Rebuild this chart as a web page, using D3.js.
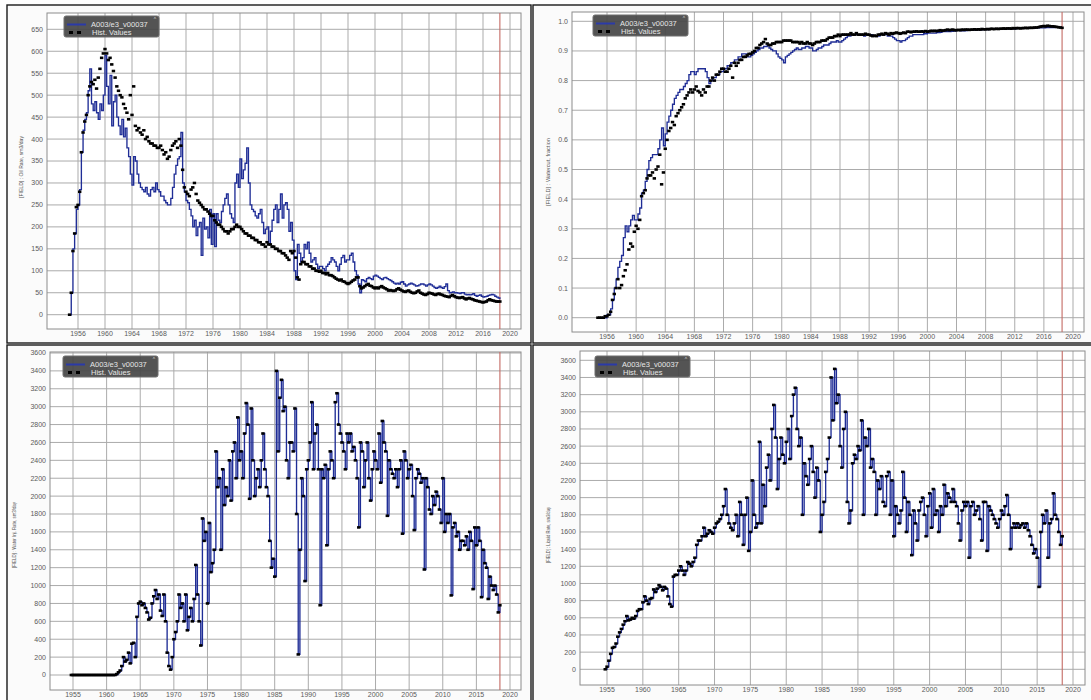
<!DOCTYPE html>
<html><head><meta charset="utf-8">
<script src="https://cdn.jsdelivr.net/npm/d3@7"></script>
<style>body{margin:0;background:#fff;}svg{display:block;font-family:"Liberation Sans",Arial,sans-serif;}</style>
</head><body><svg id="c" width="1091" height="700"></svg>
<script>
// ---- time axis: quarterly samples starting 1954.75 ----
const START_YEAR = 1954.75;
const STEP_YEARS = 0.25;
const RESTART_YEAR = 2018.5;   // red vertical marker

// ---- tick labels ----
const yearTicks4 = [1956,1960,1964,1968,1972,1976,1980,1984,1988,1992,1996,2000,2004,2008,2012,2016,2020];
const yearTicks5 = [1955,1960,1965,1970,1975,1980,1985,1990,1995,2000,2005,2010,2015,2020];
const oilTicks = [0,50,100,150,200,250,300,350,400,450,500,550,600,650];
const wcutTicks = [0,0.1,0.2,0.3,0.4,0.5,0.6,0.7,0.8,0.9,1.0];
const rateTicks = [0,200,400,600,800,1000,1200,1400,1600,1800,2000,2200,2400,2600,2800,3000,3200,3400,3600];

// ---- series names ----
const simName = "A003/e3_v00037";
const histName = "Hist. Values";

// ---- Oil rate, sm3/day ----
const simOil = [0,
 50,150,185,240, 250,285,370,420, 445,460,510,560, 480,465,485,460, 445,480,465,500,
 590,520,480,545, 430,485,500,450, 430,410,445,405, 425,380,360,320, 295,360,350,320,
 300,290,285,280, 290,275,270,285, 290,280,300,285, 280,270,270,260, 255,250,250,265,
 290,320,340,355, 360,415,300,280, 260,255,240,225, 200,215,180,200, 210,135,220,195,
 200,175,240,160, 230,155,230,215, 210,235,250,265, 275,250,230,220, 210,300,320,290,
 355,310,330,345, 380,300,250,240, 235,225,220,230, 240,210,185,195, 200,160,190,215,
 240,250,210,240, 275,220,250,255, 240,190,210,170, 100,80,160,140, 120,130,160,150,
 165,140,120,125, 130,115,105,110, 110,105,100,110, 115,120,130,125, 120,110,100,115,
 130,135,120,125, 125,135,140,120, 100,90,70,50, 80,78,75,82, 85,82,80,88,
 90,88,85,82, 80,84,85,82, 80,78,75,72, 70,72,70,74, 75,70,65,68,
 70,72,70,68, 65,66,68,70, 70,68,65,68, 70,68,65,62, 60,62,65,62,
 60,64,70,55, 50,51,52,50, 50,49,48,50, 50,47,45,46, 45,46,48,44,
 42,44,45,42, 40,41,42,44, 45,46,45,42, 40,38,35];
const histOil = [0,
 50,145,185,245, 250,280,370,415, 440,455,500,520, 530,525,535,515, 540,560,585,595,
 605,595,580,585, 570,555,540,520, 510,500,495,480, 470,460,445,500, 455,520,430,420,
 425,415,410,420, 400,405,395,390, 390,385,385,380, 380,385,375,365, 370,355,360,375,
 385,390,395,380, 400,385,330,290, 280,275,270,285, 290,300,275,260, 255,250,245,240,
 240,235,230,225, 225,215,210,205, 205,200,195,190, 190,185,190,195, 195,200,205,200,
 200,195,190,185, 185,180,180,175, 175,170,170,165, 165,160,160,155, 165,160,160,155,
 155,150,150,145, 145,140,140,135, 130,125,145,140, 145,130,85,80, 115,120,120,115,
 115,110,110,105, 105,100,100,98, 100,95,95,92, 95,90,90,88, 85,82,80,78,
 80,76,75,72, 70,72,75,78, 80,85,85,65, 60,62,65,68, 70,66,65,62,
 60,62,60,63, 65,62,60,58, 55,56,55,54, 55,58,60,57, 55,53,52,54,
 55,52,50,49, 50,53,55,50, 48,46,45,47, 50,49,48,46, 45,47,48,46,
 45,43,42,41, 40,43,45,42, 40,39,38,39, 40,37,35,37, 38,36,35,33,
 32,31,30,29, 28,29,30,33, 35,33,32,31, 30,30,30];

// ---- Watercut, fraction ----
const simWcut = [0,
 0,0,0,0, 0.01,0.01,0.03,0.06, 0.10,0.13,0.17,0.19, 0.21,0.27,0.31,0.29, 0.31,0.33,0.345,0.33,
 0.33,0.35,0.37,0.42, 0.43,0.46,0.50,0.53, 0.54,0.55,0.55,0.55, 0.57,0.60,0.64,0.58, 0.62,0.66,0.68,0.70,
 0.72,0.74,0.75,0.76, 0.77,0.77,0.78,0.79, 0.80,0.82,0.83,0.83, 0.82,0.83,0.84,0.84, 0.84,0.84,0.83,0.81,
 0.79,0.80,0.81,0.81, 0.82,0.82,0.83,0.83, 0.84,0.84,0.85,0.85, 0.86,0.86,0.87,0.87, 0.88,0.88,0.89,0.89,
 0.89,0.88,0.88,0.885, 0.89,0.895,0.90,0.905, 0.91,0.91,0.915,0.915, 0.92,0.91,0.905,0.90, 0.90,0.89,0.88,0.875,
 0.87,0.86,0.88,0.885, 0.89,0.895,0.90,0.905, 0.91,0.905,0.905,0.91, 0.91,0.915,0.915,0.91, 0.91,0.90,0.90,0.905,
 0.91,0.91,0.915,0.92, 0.92,0.92,0.925,0.93, 0.93,0.93,0.935,0.93, 0.93,0.935,0.94,0.945, 0.95,0.95,0.955,0.955,
 0.955,0.955,0.955,0.955, 0.955,0.95,0.955,0.955, 0.955,0.955,0.95,0.95, 0.95,0.95,0.955,0.955, 0.955,0.955,0.95,0.95,
 0.95,0.945,0.94,0.935, 0.935,0.93,0.935,0.935, 0.94,0.945,0.95,0.95, 0.955,0.955,0.955,0.955, 0.955,0.955,0.958,0.958,
 0.96,0.96,0.96,0.96, 0.96,0.962,0.962,0.963, 0.965,0.965,0.965,0.965, 0.965,0.966,0.967,0.968, 0.97,0.97,0.968,0.968,
 0.968,0.969,0.97,0.97, 0.97,0.97,0.97,0.971, 0.971,0.971,0.972,0.972, 0.972,0.972,0.973,0.973, 0.973,0.973,0.974,0.974,
 0.974,0.974,0.975,0.975, 0.975,0.975,0.975,0.975, 0.975,0.976,0.976,0.976, 0.976,0.976,0.977,0.977, 0.977,0.977,0.977,0.978,
 0.978,0.978,0.978,0.978, 0.978,0.979,0.979,0.979, 0.979,0.979,0.98,0.98, 0.98,0.98,0.98];
const histWcut = [0,
 0,0,0,0.005, 0.005,0.01,0.02,0.06, 0.08,0.10,0.13,0.10, 0.11,0.14,0.16,0.18, 0.23,0.25,0.24,0.29,
 0.31,0.30,0.33,0.41, 0.42,0.43,0.47,0.48, 0.48,0.49,0.47,0.50, 0.51,0.55,0.45,0.49, 0.57,0.60,0.63,0.64,
 0.66,0.65,0.68,0.69, 0.70,0.71,0.72,0.74, 0.75,0.76,0.77,0.76, 0.77,0.78,0.765,0.76, 0.75,0.77,0.76,0.78,
 0.78,0.80,0.81,0.80, 0.82,0.82,0.83,0.84, 0.84,0.83,0.83,0.84, 0.85,0.81,0.86,0.85, 0.86,0.87,0.87,0.88,
 0.88,0.885,0.89,0.89, 0.895,0.90,0.91,0.91, 0.92,0.925,0.93,0.94, 0.925,0.92,0.92,0.925, 0.925,0.93,0.93,0.93,
 0.93,0.935,0.935,0.935, 0.935,0.935,0.93,0.93, 0.93,0.93,0.925,0.93, 0.925,0.925,0.93,0.925, 0.925,0.92,0.925,0.93,
 0.93,0.93,0.935,0.935, 0.935,0.94,0.945,0.945, 0.945,0.95,0.95,0.955, 0.95,0.955,0.955,0.955, 0.955,0.955,0.96,0.955,
 0.955,0.96,0.955,0.955, 0.955,0.955,0.958,0.955, 0.955,0.952,0.95,0.952, 0.95,0.955,0.955,0.958, 0.955,0.96,0.958,0.955,
 0.96,0.958,0.96,0.962, 0.96,0.958,0.96,0.962, 0.96,0.965,0.965,0.963, 0.965,0.965,0.966,0.965, 0.965,0.966,0.965,0.967,
 0.965,0.966,0.968,0.967, 0.968,0.967,0.968,0.97, 0.968,0.969,0.97,0.972, 0.97,0.971,0.972,0.97, 0.97,0.971,0.97,0.972,
 0.971,0.972,0.972,0.971, 0.972,0.972,0.973,0.972, 0.973,0.972,0.974,0.973, 0.973,0.974,0.973,0.975, 0.974,0.974,0.975,0.974,
 0.975,0.975,0.976,0.975, 0.976,0.976,0.975,0.977, 0.976,0.977,0.977,0.976, 0.977,0.977,0.978,0.977, 0.978,0.978,0.978,0.979,
 0.979,0.98,0.982,0.983, 0.984,0.983,0.985,0.984, 0.983,0.983,0.982,0.981, 0.98,0.979,0.978];

// ---- Water injection rate, sm3/day (historical; the rate-controlled run reproduces it) ----
const histWinj = [0,
 0,0,0,0, 0,0,0,0, 0,0,0,0, 0,0,0,0, 0,0,0,0,
 0,0,0,0, 0,0,10,30, 50,100,200,150, 170,250,130,350, 360,200,650,800,
 820,780,800,750, 700,620,640,800, 880,950,850,900, 720,660,900,600, 250,100,60,200,
 400,480,600,900, 750,800,600,900, 500,650,750,600, 850,1230,900,600, 330,1750,1500,1600,
 800,1700,1150,1250, 1400,2500,2100,2200, 1400,2300,1900,2100, 2000,2400,1950,2500, 2600,2200,2880,2400,
 2500,2200,2700,3040, 2800,1970,2980,2400, 2000,2200,2300,2100, 2400,2700,2300,2100, 2000,1500,1200,1300,
 1100,3400,2500,3100, 3300,2950,3000,2400, 2200,2600,2600,2500, 2980,1800,230,1400, 2200,2000,1050,2300,
 2400,2600,3050,2300, 2700,2800,2300,780, 2300,2200,2350,1450, 2300,2500,2400,2200, 3050,3150,2800,2700,
 2600,2500,2300,2700, 2600,2700,2500,2550, 2400,2200,1650,2600, 2500,2100,2400,2600, 2200,1950,2300,2500,
 2400,2300,2700,2150, 2840,2600,2500,1780, 2400,2300,2250,2200, 2300,2100,2300,2400, 1580,2500,2400,2200,
 2300,2350,2000,1620, 2200,2300,2250,2150, 2200,1180,2200,2100, 1850,1800,2000,1900, 2050,2000,1850,1700,
 2200,1600,1800,1700, 1800,890,1650,1700, 1550,1600,1400,1500, 1500,1450,1550,1400, 1600,1500,960,1650,
 1450,1650,1500,870, 1400,1250,1200,850, 1100,1000,950,1000, 900,700,780];
const simWinj = histWinj;

// ---- Liquid rate, sm3/day ----
const histLiq = [0,
 30,100,180,250, 260,300,380,430, 470,520,560,620, 570,580,600,590, 620,680,700,700,
 780,850,800,760, 820,830,930,900, 940,980,960,920, 960,940,850,760, 730,1080,1100,1100,
 1150,1200,1150,1100, 1150,1250,1230,1200, 1250,1300,1450,1500, 1500,1550,1650,1550, 1580,1620,1600,1580,
 1650,1700,1720,1750, 1800,1900,2100,1800, 1700,1650,1620,1700, 1800,1550,1950,1800, 1450,1800,2000,1380,
 1600,2200,1800,1650, 1700,2650,1700,2150, 1900,2350,2500,2200, 2800,3080,2700,2100, 2450,2700,2500,2400,
 2650,2800,2450,2950, 3200,3280,2800,2600, 2700,1800,2400,2250, 2150,2450,2600,2300, 2000,2350,2200,1600,
 1800,1950,2300,2450, 2700,3400,2900,3500, 3100,3200,2600,2350, 2800,3000,1950,1700, 1850,2400,2500,2450,
 2600,2550,2900,1800, 2700,2600,2800,2350, 2450,2300,1800,2200, 2100,2250,1950,1900, 2250,2300,1800,2200,
 1550,1900,1800,1700, 1850,2300,2000,1600, 1950,1800,1330,1850, 1700,1500,1850,1950, 2000,1800,1550,1900,
 2050,1650,2100,1800, 1850,1600,1900,1800, 2150,1900,2050,2000, 1950,2100,1950,1900, 1700,1500,1850,1950,
 1900,1950,1300,1900, 1950,1800,1850,1900, 1750,1500,1950,1950, 1380,1900,1850,1800, 1750,1700,1650,1750,
 1850,1800,1900,2030, 1800,1400,1650,1700, 1650,1700,1650,1680, 1700,1650,1700,1620, 1550,1450,1350,1400,
 1300,960,1600,1800, 1700,1850,1300,1700, 1750,2050,1800,1750, 1600,1450,1550];
const simLiq = histLiq;

// ---- panel layout ----
const panels = [
  {box:[7,5,524,338], plot:[47,13,521,329], xa:[1956,78,2020,510], ya:[0,314.7,650,29.3],
   xt:yearTicks4, yt:oilTicks, fmt:d3.format("d"), sim:simOil, hist:histOil,
   title:"[FIELD] : Oil Rate, sm3/day", tx:21, ty:167, tl:62, leg:[64,16], xly:334},
  {box:[533,5,560,338], plot:[572,12,1084,332], xa:[1956,607,2020,1073], ya:[0,317.7,1,21.3],
   xt:yearTicks4, yt:wcutTicks, fmt:d3.format(".1f"), sim:simWcut, hist:histWcut,
   title:"[FIELD] : Watercut, fraction", tx:548, ty:172, tl:68, leg:[593,15], xly:337},
  {box:[7,345,524,360], plot:[50,352,521,690], xa:[1955,73,2020,510], ya:[0,675,3600,353],
   xt:yearTicks5, yt:rateTicks, fmt:d3.format("d"), sim:simWinj, hist:histWinj,
   title:"[FIELD] : Water Inj. Rate, sm3/day", tx:14, ty:535, tl:66, leg:[63,356], xly:695},
  {box:[533,345,560,360], plot:[580,351,1085,685], xa:[1955,607,2020,1073], ya:[0,669.3,3600,360.3],
   xt:yearTicks5, yt:rateTicks, fmt:d3.format("d"), sim:simLiq, hist:histLiq,
   title:"[FIELD] : Liquid Rate, sm3/day", tx:548, ty:535, tl:56, leg:[595,356], xly:690}
];

const svg = d3.select("#c");
const defs = svg.append("defs");

panels.forEach((p, pi) => {
  const [L,T,R,B] = p.plot;
  const x = d3.scaleLinear().domain([p.xa[0], p.xa[2]]).range([p.xa[1], p.xa[3]]);
  const y = d3.scaleLinear().domain([p.ya[0], p.ya[2]]).range([p.ya[1], p.ya[3]]);
  const g = svg.append("g");

  g.append("rect").attr("x",p.box[0]).attr("y",p.box[1]).attr("width",p.box[2]).attr("height",p.box[3])
    .attr("fill","#fbfbfb").attr("stroke","#1a1a1a").attr("stroke-width",1.4);
  g.append("rect").attr("x",L).attr("y",T).attr("width",R-L).attr("height",B-T).attr("fill","#fff");

  defs.append("clipPath").attr("id","cp"+pi).append("rect")
    .attr("x",L).attr("y",T).attr("width",R-L).attr("height",B-T);

  // grid
  g.selectAll(".vg").data(p.xt).join("line").attr("x1",d=>x(d)).attr("x2",d=>x(d))
    .attr("y1",T).attr("y2",B).attr("stroke","#ababab").attr("stroke-width",1);
  g.selectAll(".hg").data(p.yt).join("line").attr("y1",d=>y(d)).attr("y2",d=>y(d))
    .attr("x1",L).attr("x2",R).attr("stroke","#ababab").attr("stroke-width",1);
  g.append("rect").attr("x",L).attr("y",T).attr("width",R-L).attr("height",B-T)
    .attr("fill","none").attr("stroke","#8c8c8c").attr("stroke-width",1);

  // tick labels
  g.selectAll(".yl").data(p.yt).join("text").attr("x",L-4).attr("y",d=>y(d))
    .attr("dy","0.35em").attr("text-anchor","end").attr("font-size",7).attr("fill","#5a5a5a")
    .text(d=>p.fmt(d));
  g.selectAll(".xl").data(p.xt).join("text").attr("x",d=>x(d)).attr("y",p.xly)
    .attr("dy","0.35em").attr("text-anchor","middle").attr("font-size",7).attr("fill","#5a5a5a")
    .text(d=>d);

  // y title
  g.append("text").attr("transform",`translate(${p.tx},${p.ty}) rotate(-90)`)
    .attr("text-anchor","middle").attr("dy","0.35em").attr("font-size",6).attr("fill","#555")
    .attr("textLength",p.tl).attr("lengthAdjust","spacingAndGlyphs").text(p.title);

  // restart marker
  g.append("line").attr("x1",x(RESTART_YEAR)).attr("x2",x(RESTART_YEAR)).attr("y1",T).attr("y2",B)
    .attr("stroke","#c46a64").attr("stroke-width",1.1);

  const cg = g.append("g").attr("clip-path",`url(#cp${pi})`);
  const line = d3.line().x((d,i)=>x(START_YEAR + i*STEP_YEARS)).y(d=>y(d)).curve(d3.curveStepAfter);
  cg.append("path").datum(p.sim).attr("d",line).attr("fill","none")
    .attr("stroke","#1f2d96").attr("stroke-width",1.35);
  cg.selectAll(".h").data(p.hist).join("rect")
    .attr("x",(d,i)=>x(START_YEAR + i*STEP_YEARS)-1.7).attr("y",d=>y(d)-1.3)
    .attr("width",3.4).attr("height",2.6).attr("fill","#000");

  // legend
  const [lx,ly] = p.leg;
  const lg = g.append("g").attr("transform",`translate(${lx},${ly})`);
  lg.append("rect").attr("width",95).attr("height",21).attr("rx",2)
    .attr("fill","#454545").attr("fill-opacity",0.92).attr("stroke","#6e6e6e");
  lg.append("line").attr("x1",3).attr("x2",22).attr("y1",8.5).attr("y2",8.5)
    .attr("stroke","#2b3aa8").attr("stroke-width",2);
  [5,13].forEach(dx => lg.append("rect").attr("x",dx).attr("y",15).attr("width",4).attr("height",3).attr("fill","#000"));
  lg.append("text").attr("x",27).attr("y",11).attr("font-size",7.5).attr("fill","#e6e6e6").text(simName);
  lg.append("text").attr("x",28).attr("y",19).attr("font-size",7.5).attr("fill","#e6e6e6").text(histName);
  lg.append("text").attr("x",91).attr("y",5).attr("font-size",5).attr("text-anchor","middle").attr("fill","#ddd").text("^");
});
</script></body></html>
